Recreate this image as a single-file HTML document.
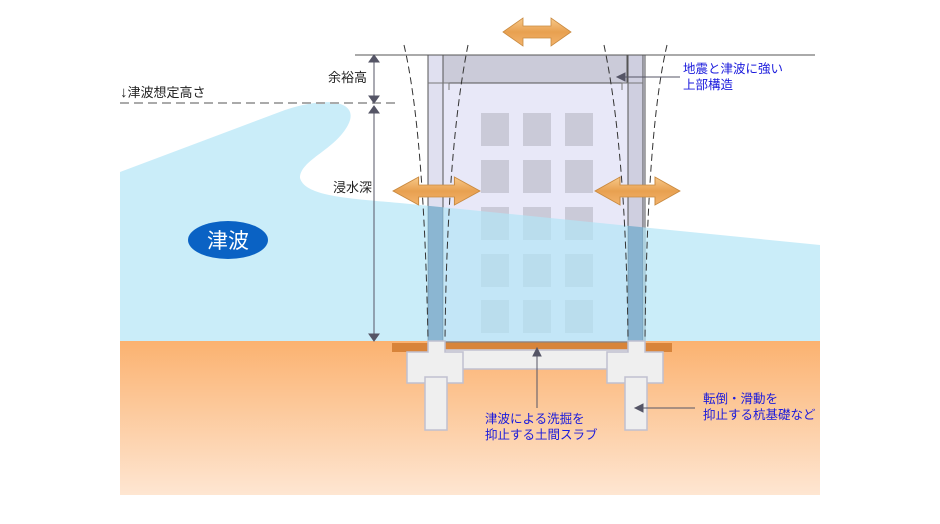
<!DOCTYPE html><html><head><meta charset="utf-8"><style>body{margin:0;background:#fff}svg{display:block}text{font-family:"Liberation Sans","Noto Sans CJK JP",sans-serif}</style></head><body>
<svg width="940" height="524" viewBox="0 0 940 524" xmlns="http://www.w3.org/2000/svg">
<defs>
<linearGradient id="g" x1="0" y1="0" x2="0" y2="1"><stop offset="0" stop-color="#fbb270"/><stop offset="1" stop-color="#fee6d2"/></linearGradient>
<linearGradient id="ar" x1="0" y1="0" x2="0" y2="1"><stop offset="0" stop-color="#f7c98a"/><stop offset="0.5" stop-color="#e8a050"/><stop offset="1" stop-color="#f2b36c"/></linearGradient>
<g id="dar"><path d="M0,0 L20,-14 L20,-6 L48,-6 L48,-14 L68,0 L48,14 L48,6 L20,6 L20,14 Z" fill="url(#ar)" stroke="#c98a40" stroke-width="0.8"/></g>
<clipPath id="wc"><path d="M120,172 L285,110 C330,95 360,102 348,125 C335,150 300,160 300,178 C305,195 340,198 400,203 L820,245 L820,341 L120,341 Z"/></clipPath>
</defs>
<rect x="120" y="341" width="700" height="154" fill="url(#g)"/>
<rect x="428" y="55" width="217" height="287" fill="#e8e8f8" stroke="#555" stroke-width="1"/>
<rect x="443" y="55" width="184" height="28" fill="#cbcbd9" stroke="#555" stroke-width="1"/>
<rect x="428" y="55" width="15" height="287" fill="#e0e0f0" stroke="#555" stroke-width="1"/>
<rect x="628" y="55" width="15" height="287" fill="#cfcfe0" stroke="#555" stroke-width="1"/>
<path d="M428,83 H449 V90 M643,83 H622 V90" fill="none" stroke="#777"/>
<g fill="#cacad8">
<rect x="481" y="113" width="28" height="33"/><rect x="523" y="113" width="28" height="33"/><rect x="565" y="113" width="28" height="33"/>
<rect x="481" y="160" width="28" height="33"/><rect x="523" y="160" width="28" height="33"/><rect x="565" y="160" width="28" height="33"/>
<rect x="481" y="207" width="28" height="33"/><rect x="523" y="207" width="28" height="33"/><rect x="565" y="207" width="28" height="33"/>
<rect x="481" y="254" width="28" height="33"/><rect x="523" y="254" width="28" height="33"/><rect x="565" y="254" width="28" height="33"/>
<rect x="481" y="300" width="28" height="33"/><rect x="523" y="300" width="28" height="33"/><rect x="565" y="300" width="28" height="33"/>
</g>
<path d="M120,172 L285,110 C330,95 360,102 348,125 C335,150 300,160 300,178 C305,195 340,198 400,203 L820,245 L820,341 L120,341 Z" fill="#b4e6f7" fill-opacity="0.7"/>
<g clip-path="url(#wc)" fill="#4a7fa8" fill-opacity="0.45">
<rect x="428" y="60" width="15" height="282"/><rect x="628" y="60" width="15" height="282"/>
</g>
<rect x="392" y="343" width="36" height="9" fill="#d8843a"/><rect x="445" y="343" width="183" height="6" fill="#d8843a"/><rect x="645" y="343" width="27" height="9" fill="#d8843a"/>
<g fill="#efefef" stroke="#c0c0d0" stroke-width="1.5">
<rect x="445" y="350" width="183" height="19"/>
<path d="M428,341 H445 V352 H463 V383 H407 V352 H428 Z"/>
<path d="M628,341 H645 V352 H663 V383 H607 V352 H628 Z"/>
<rect x="425" y="377" width="22" height="53"/><rect x="625" y="377" width="22" height="53"/>
</g>
<line x1="355" y1="55" x2="428" y2="55" stroke="#555"/><line x1="645" y1="55" x2="815" y2="55" stroke="#555"/>
<line x1="120" y1="103" x2="400" y2="103" stroke="#aaa" stroke-width="2" stroke-dasharray="9,5"/>
<g stroke="#333" fill="none" stroke-dasharray="7,4" stroke-width="1">
<path d="M404,45 Q424,130 428,340"/><path d="M468,45 Q447,150 445,340"/>
<path d="M604,45 Q626,150 628,340"/><path d="M667,45 Q647,130 645,340"/>
</g>
<g stroke="#556" fill="#556">
<line x1="374" y1="58" x2="374" y2="100"/><path d="M369,62 L374,55 L379,62Z M369,96 L374,103 L379,96Z"/>
<line x1="374" y1="110" x2="374" y2="338"/><path d="M369,113 L374,106 L379,113Z M369,334 L374,341 L379,334Z"/>
<line x1="622" y1="77" x2="680" y2="77"/><path d="M617,77 L625,73 L625,81Z"/>
<line x1="537" y1="350" x2="537" y2="408"/><path d="M533,356 L537,348 L541,356Z"/>
<line x1="640" y1="408" x2="695" y2="408"/><path d="M635,408 L643,404 L643,412Z"/>
</g>
<use href="#dar" x="503" y="32"/>
<use href="#dar" x="393" y="191" transform="translate(393 191) scale(1.28 1) translate(-393 -191)"/>
<use href="#dar" x="595" y="191" transform="translate(595 191) scale(1.25 1) translate(-595 -191)"/>
<ellipse cx="228" cy="240" rx="40" ry="19" fill="#0a62c4"/>
<text x="228" y="248" font-size="21" fill="#fff" text-anchor="middle">津波</text>
<g font-size="13" fill="#222">
<text x="120" y="97"><tspan font-size="15">↓</tspan>津波想定高さ</text>
<text x="328" y="82">余裕高</text>
<text x="333" y="192">浸水深</text>
</g>
<g font-size="12.5" fill="#1a1adc">
<text x="683" y="73">地震と津波に強い</text><text x="683" y="89">上部構造</text>
<text x="485" y="423">津波による洗掘を</text><text x="485" y="439">抑止する土間スラブ</text>
<text x="703" y="403">転倒・滑動を</text><text x="703" y="419">抑止する杭基礎など</text>
</g>
</svg></body></html>
